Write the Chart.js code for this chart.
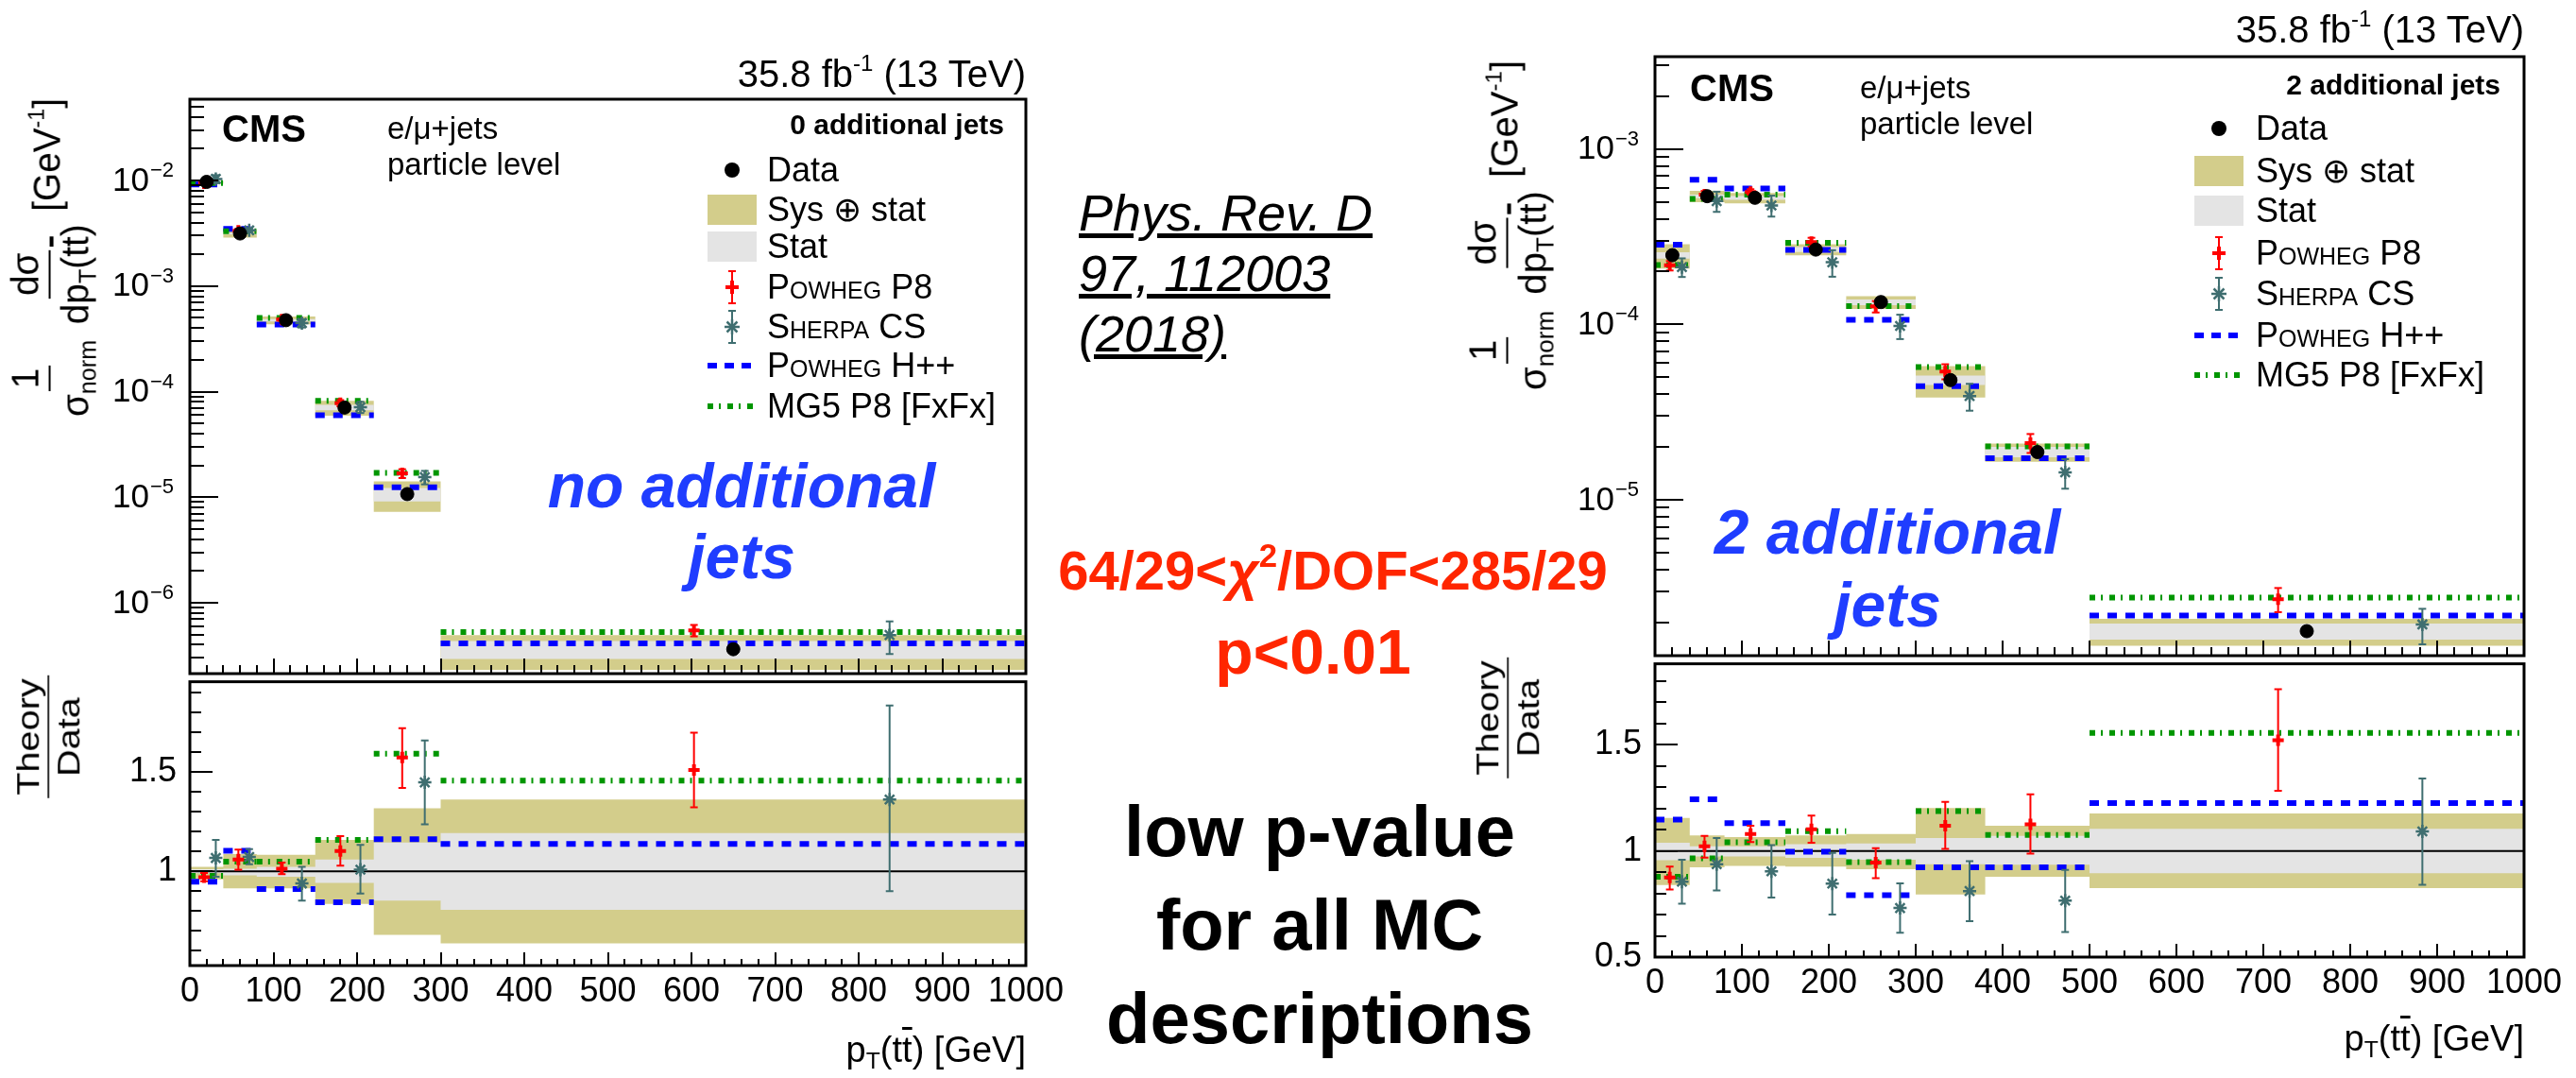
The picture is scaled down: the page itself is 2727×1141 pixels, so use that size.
<!DOCTYPE html>
<html>
<head>
<meta charset="utf-8">
<title>pT(tt) for 0 and 2 additional jets</title>
<script src="https://cdn.jsdelivr.net/npm/chart.js@4.4.1/dist/chart.umd.min.js"></script>
<style>
body { margin: 0; background: #fff; }
#page { position: relative; width: 2727px; height: 1141px; overflow: hidden; background: #fff;
  font-family: "Liberation Sans", Arial, Helvetica, sans-serif; color: #000; }
#page canvas { position: absolute; }
.t { position: absolute; white-space: nowrap; line-height: 1; }
.b { font-weight: bold; }
.sc { font-variant: small-caps; }
.frac { display: inline-flex; flex-direction: column; align-items: center; vertical-align: middle; line-height: 1.25; }
.frac .n { border-bottom: 2px solid #000; padding: 0 3px; }
.frac .d { padding: 0 3px; }
.ov { text-decoration: overline; }
.rot { position: absolute; white-space: nowrap; line-height: 1; transform-origin: 50% 50%; }
sub { font-size: 0.65em; vertical-align: -0.3em; line-height: 0; }
sup { font-size: 0.6em; vertical-align: 0.7em; line-height: 0; }
.lgs { position: absolute; }
</style>
</head>
<body>
<div id="page">
  <canvas id="j0top"></canvas>
  <canvas id="j0rat"></canvas>
  <canvas id="j2top"></canvas>
  <canvas id="j2rat"></canvas>

  <!-- left plot: 0 additional jets -->
  <div class="t" style="right:1641px;top:58px;font-size:40px">35.8 fb<sup>-1</sup> (13 TeV)</div>
  <div class="t b" style="left:235px;top:116px;font-size:40px">CMS</div>
  <div class="t" style="left:410px;top:119px;font-size:33px">e/&mu;+jets</div>
  <div class="t" style="left:410px;top:157px;font-size:33px">particle level</div>
  <div class="t b" style="right:1664px;top:117px;font-size:30px">0 additional jets</div>
  <div class="t b" style="left:785px;top:477px;font-size:66px;line-height:75px;font-style:italic;color:#1f3dff;text-align:center;transform:translateX(-50%)">no additional<br>jets</div>
  <div class="rot" id="yt0" style="font-size:40px"><span class="frac"><span class="n">1</span><span class="d">&sigma;<sub>norm</sub></span></span> <span class="frac"><span class="n">d&sigma;</span><span class="d">dp<sub>T</sub>(t<span class="ov">t</span>)</span></span> [GeV<sup>-1</sup>]</div>
  <div class="rot" id="rt0" style="font-size:40px"><span class="frac"><span class="n">Theory</span><span class="d">Data</span></span></div>
  <div class="t" style="right:1641px;top:1092px;font-size:38px">p<sub>T</sub>(t<span class="ov">t</span>) [GeV]</div>

  <!-- right plot: 2 additional jets -->
  <div class="t" style="right:55px;top:11px;font-size:40px">35.8 fb<sup>-1</sup> (13 TeV)</div>
  <div class="t b" style="left:1789px;top:73px;font-size:40px">CMS</div>
  <div class="t" style="left:1969px;top:76px;font-size:33px">e/&mu;+jets</div>
  <div class="t" style="left:1969px;top:114px;font-size:33px">particle level</div>
  <div class="t b" style="right:80px;top:75px;font-size:30px">2 additional jets</div>
  <div class="t b" style="left:1998px;top:525px;font-size:66px;line-height:77px;font-style:italic;color:#1f3dff;text-align:center;transform:translateX(-50%)">2 additional<br>jets</div>
  <div class="rot" id="yt2" style="font-size:40px"><span class="frac"><span class="n">1</span><span class="d">&sigma;<sub>norm</sub></span></span> <span class="frac"><span class="n">d&sigma;</span><span class="d">dp<sub>T</sub>(t<span class="ov">t</span>)</span></span> [GeV<sup>-1</sup>]</div>
  <div class="rot" id="rt2" style="font-size:40px"><span class="frac"><span class="n">Theory</span><span class="d">Data</span></span></div>
  <div class="t" style="right:55px;top:1080px;font-size:38px">p<sub>T</sub>(t<span class="ov">t</span>) [GeV]</div>

  <!-- middle annotations -->
  <div class="t" style="left:1142px;top:193px;font-size:54px;line-height:64px;font-style:italic;text-decoration:underline">Phys. Rev. D<br>97, 112003<br>(2018)</div>
  <div class="t b" style="left:1411px;top:575px;font-size:58px;color:#ff2600;transform:translateX(-50%)">64/29&lt;<i>&chi;</i><sup>2</sup>/DOF&lt;285/29</div>
  <div class="t b" style="left:1390px;top:657px;font-size:66px;color:#ff2600;transform:translateX(-50%)">p&lt;0.01</div>
  <div class="t b" style="left:1397px;top:830px;font-size:76px;line-height:99px;text-align:center;transform:translateX(-50%)">low p-value<br>for all MC<br>descriptions</div>

  <div id="legends"></div>
</div>

<script>
// ---- values ----
// pT(tt) bin edges [GeV]
const binsJ0 = [0, 40, 80, 150, 220, 300, 1000];
const binsJ2 = [0, 40, 80, 150, 220, 300, 380, 500, 1000];

// data points (upper pad), 1/sigma dsigma/dpT [GeV^-1]
const dataXJ0 = [20, 60, 115, 185, 260, 650];
const dataJ0 = [9.7e-3, 3.15e-3, 4.75e-4, 7.06e-5, 1.07e-5, 3.63e-7];
const dataXJ2 = [20, 60, 115, 185, 260, 340, 440, 750];
const dataJ2 = [2.48e-4, 5.38e-4, 5.27e-4, 2.67e-4, 1.34e-4, 4.81e-5, 1.87e-5, 1.78e-6];

// relative uncertainty bands (as theory/data ratio pad)
const sysLoJ0 = [0.96, 0.914, 0.914, 0.836, 0.68, 0.638];
const sysHiJ0 = [1.023, 1.086, 1.083, 1.158, 1.317, 1.361];
const statLoJ0 = [0.99, 0.98, 0.973, 0.942, 0.853, 0.806];
const statHiJ0 = [1.01, 1.013, 1.023, 1.059, 1.145, 1.192];
const sysLoJ2 = [0.84, 0.923, 0.93, 0.926, 0.914, 0.795, 0.879, 0.825];
const sysHiJ2 = [1.156, 1.073, 1.065, 1.073, 1.08, 1.202, 1.119, 1.177];
const statLoJ2 = [0.956, 0.974, 0.974, 0.967, 0.959, 0.9375, 0.935, 0.895];
const statHiJ2 = [1.039, 1.022, 1.022, 1.032, 1.035, 1.061, 1.071, 1.104];

// theory / data
const p8XJ0 = [17, 58, 110, 180, 254, 603];
const p8J0 = [0.970, 1.059, 1.0125, 1.102, 1.572, 1.509];
const p8LoJ0 = [0.95, 1.008, 0.986, 1.028, 1.419, 1.322];
const p8HiJ0 = [0.992, 1.109, 1.044, 1.177, 1.719, 1.697];
const sherpaXJ0 = [31, 71, 134, 204, 281, 837];
const sherpaJ0 = [1.067, 1.072, 0.939, 1.008, 1.447, 1.361];
const sherpaLoJ0 = [0.973, 1.036, 0.852, 0.888, 1.236, 0.9];
const sherpaHiJ0 = [1.158, 1.111, 1.023, 1.133, 1.658, 1.833];
const hppJ0 = [0.947, 1.103, 0.911, 0.844, 1.161, 1.1375];
const mg5J0 = [0.977, 1.048, 1.048, 1.158, 1.591, 1.456];

const p8XJ2 = [17, 57, 110, 180, 254, 334, 432, 717];
const p8J2 = [0.875, 1.022, 1.08, 1.102, 0.945, 1.119, 1.126, 1.522];
const p8LoJ2 = [0.818, 0.969, 1.042, 1.039, 0.872, 1.01, 0.988, 1.284];
const p8HiJ2 = [0.926, 1.071, 1.119, 1.167, 1.013, 1.231, 1.267, 1.762];
const sherpaXJ2 = [31, 71, 134, 204, 282, 362, 472, 883];
const sherpaJ2 = [0.855, 0.9375, 0.904, 0.846, 0.731, 0.811, 0.766, 1.092];
const sherpaLoJ2 = [0.751, 0.814, 0.781, 0.70, 0.615, 0.669, 0.618, 0.841];
const sherpaHiJ2 = [0.959, 1.061, 1.028, 0.991, 0.847, 0.952, 0.911, 1.341];
const hppJ2 = [1.148, 1.243, 1.131, 0.996, 0.792, 0.923, 0.923, 1.226];
const mg5J2 = [0.878, 0.965, 1.041, 1.093, 0.948, 1.1875, 1.076, 1.556];

// tick labels
const xTickLabels = [0, 100, 200, 300, 400, 500, 600, 700, 800, 900, 1000];
const xMinorStep = 20;
const ratioTickLabels = [0.5, 1, 1.5];
const logDecades = [-7, -6, -5, -4, -3, -2, -1];

// ---- styling ----
const C = { khaki: '#d3cd8b', stat: '#e4e4e4', p8: '#ff0000', sherpa: '#3f6e70', hpp: '#0000ff', mg5: '#009600' };
const FONT = 'Liberation Sans, Arial, sans-serif';
const tickFont = { family: FONT, size: 36 };
const AX_W = 170, PAD_T = 30, PAD_R = 80;

function steps(bins, vals) {
  const out = vals.map((v, i) => ({x: bins[i], y: v}));
  out.push({x: bins[bins.length - 1], y: vals[vals.length - 1]});
  return out;
}
function hsegs(bins, vals) {
  const out = [];
  vals.forEach((v, i) => { out.push({x: bins[i], y: v}, {x: bins[i + 1], y: v}, {x: bins[i + 1], y: null}); });
  return out;
}
function vbars(xs, lo, hi) {
  const out = [];
  xs.forEach((x, i) => { out.push({x: x, y: lo[i]}, {x: x, y: hi[i]}, {x: x, y: null}); });
  return out;
}
function pts(xs, ys) { return xs.map((x, i) => ({x: x, y: ys[i]})); }

function errSet(xs, lo, hi, color, order) {
  return { data: vbars(xs, lo, hi), borderColor: color, borderWidth: 2, pointStyle: 'line',
    pointRadius: c => (c.raw && c.raw.y != null ? 4 : 0), pointBorderColor: color, pointBorderWidth: 2, order: order };
}

function datasets(s, upper) {
  const k = upper ? (r => r.map((v, i) => v * s.data[i])) : (r => r);
  const band = { borderColor: 'rgba(0,0,0,0)', borderWidth: 0, pointRadius: 0, stepped: true };
  const ds = [
    Object.assign({ data: steps(s.bins, k(s.sysHi)), fill: '+1', backgroundColor: C.khaki, order: 30 }, band),
    Object.assign({ data: steps(s.bins, k(s.sysLo)), fill: false, order: 29 }, band),
    Object.assign({ data: steps(s.bins, k(s.statHi)), fill: '+1', backgroundColor: C.stat, order: 28 }, band),
    Object.assign({ data: steps(s.bins, k(s.statLo)), fill: false, order: 27 }, band)
  ];
  if (!upper) ds.push({ data: [{x: 0, y: 1}, {x: 1000, y: 1}], borderColor: '#000', borderWidth: 2, pointRadius: 0, order: 20 });
  ds.push({ data: hsegs(s.bins, k(s.hpp)), borderColor: C.hpp, borderWidth: 6, borderDash: [10, 9], pointRadius: 0, order: 15 });
  ds.push({ data: hsegs(s.bins, k(s.mg5)), borderColor: C.mg5, borderWidth: 6, borderDash: [6, 6, 2, 7], pointRadius: 0, order: 14 });
  ds.push(errSet(s.p8X, k(s.p8Lo), k(s.p8Hi), C.p8, 10));
  ds.push(errSet(s.sherpaX, k(s.sherpaLo), k(s.sherpaHi), C.sherpa, 11));
  ds.push({ data: pts(s.sherpaX, k(s.sherpa)), showLine: false, pointStyle: 'star', pointRadius: 7,
    pointBorderWidth: 2.5, pointBorderColor: C.sherpa, order: 6 });
  ds.push({ data: pts(s.p8X, k(s.p8)), showLine: false, pointStyle: 'cross', pointRadius: 6,
    pointBorderWidth: 4, pointBorderColor: C.p8, order: 5 });
  if (upper) ds.push({ data: pts(s.dataX, s.data), showLine: false, pointStyle: 'circle', pointRadius: 7,
    pointBackgroundColor: '#000', pointBorderColor: '#000', pointBorderWidth: 1, order: 1 });
  return ds;
}

// ROOT-like frame with inward tick marks, and 10^n labels on log axes
const rootFrame = {
  id: 'rootFrame',
  afterDatasetsDraw(chart, args, o) {
    const ctx = chart.ctx, a = chart.chartArea, x = chart.scales.x, y = chart.scales.y;
    ctx.save();
    ctx.strokeStyle = '#000';
    ctx.lineWidth = 2;
    ctx.beginPath();
    x.ticks.forEach(t => {
      const px = Math.round(x.getPixelForValue(t.value));
      const len = t.value % 100 === 0 ? o.xMajor : o.xMinor;
      ctx.moveTo(px, a.bottom); ctx.lineTo(px, a.bottom - len);
    });
    y.ticks.forEach(t => {
      const py = Math.round(y.getPixelForValue(t.value));
      const major = o.log ? t.major : Math.abs(t.value * 2 - Math.round(t.value * 2)) < 1e-6;
      ctx.moveTo(a.left, py); ctx.lineTo(a.left + (major ? o.yMajor : o.yMinor), py);
    });
    ctx.stroke();
    ctx.lineWidth = 3;
    ctx.strokeRect(a.left, a.top, a.right - a.left, a.bottom - a.top);

    if (o.log) {
      ctx.fillStyle = '#000';
      ctx.textBaseline = 'middle';
      ctx.textAlign = 'left';
      y.ticks.filter(t => t.major).forEach(t => {
        const py = y.getPixelForValue(t.value);
        const ex = '\u2212' + String(-Math.round(Math.log10(t.value)));
        ctx.font = '35px ' + FONT;
        const wb = ctx.measureText('10').width;
        ctx.font = '22px ' + FONT;
        const we = ctx.measureText(ex).width;
        const x0 = a.left - 18 - we - wb;
        ctx.font = '35px ' + FONT;
        ctx.fillText('10', x0, py + 1);
        ctx.font = '22px ' + FONT;
        ctx.fillText(ex, x0 + wb + 1, py - 10);
      });
    }
    ctx.restore();
  }
};

function xTicks() {
  const t = [];
  for (let v = 0; v <= 1000; v += xMinorStep) t.push({value: v});
  return t;
}
function logTicks(min, max) {
  const t = [];
  logDecades.forEach(e => {
    for (let m = 1; m <= 9; m++) {
      const v = m * Math.pow(10, e);
      if (v >= min && v <= max) t.push({value: v, major: m === 1});
    }
  });
  return t;
}
function ratioTicks(min, max) {
  const t = [];
  for (let k = 5; k <= 19; k++) { const v = k / 10; if (v >= min - 1e-9 && v <= max + 1e-9) t.push({value: v}); }
  return t;
}

function makePanel(id, g, s, upper) {
  const xH = upper ? 30 : 80;
  const cv = document.getElementById(id);
  cv.width = AX_W + (g.R - g.L) + PAD_R;
  cv.height = PAD_T + (g.B - g.T) + xH;
  cv.style.left = (g.L - AX_W) + 'px';
  cv.style.top = (g.T - PAD_T) + 'px';

  const yScale = upper ? {
    type: 'logarithmic', min: s.yMin, max: s.yMax,
    afterBuildTicks: sc => { sc.ticks = logTicks(s.yMin, s.yMax); },
    ticks: { display: false }
  } : {
    type: 'linear', min: s.rMin, max: s.rMax,
    afterBuildTicks: sc => { sc.ticks = ratioTicks(s.rMin, s.rMax); },
    ticks: { autoSkip: false, padding: 14, color: '#000', font: tickFont,
      callback: v => (ratioTickLabels.includes(v) ? String(v) : '') }
  };
  yScale.grid = { display: false, drawTicks: false };
  yScale.border = { display: false };
  yScale.afterFit = sc => { sc.width = AX_W; };

  new Chart(cv, {
    type: 'line',
    data: { datasets: datasets(s, upper) },
    options: {
      responsive: false, animation: false, events: [],
      layout: { padding: { top: PAD_T, right: PAD_R, left: 0, bottom: 0 } },
      plugins: {
        legend: { display: false }, tooltip: { enabled: false },
        rootFrame: upper ? { log: true, xMajor: 16, xMinor: 9, yMajor: 30, yMinor: 15 }
                         : { log: false, xMajor: 14, xMinor: 7, yMajor: 24, yMinor: 12 }
      },
      scales: {
        x: {
          type: 'linear', min: 0, max: 1000,
          grid: { display: false, drawTicks: false }, border: { display: false },
          afterBuildTicks: sc => { sc.ticks = xTicks(); },
          afterFit: sc => { sc.height = xH; },
          ticks: { display: !upper, autoSkip: false, maxRotation: 0, padding: 6, color: '#000', font: tickFont,
            callback: v => (xTickLabels.includes(v) ? String(v) : '') }
        },
        y: yScale
      }
    },
    plugins: [rootFrame]
  });
}

const J0 = { bins: binsJ0, data: dataJ0, dataX: dataXJ0, sysLo: sysLoJ0, sysHi: sysHiJ0, statLo: statLoJ0, statHi: statHiJ0,
  p8X: p8XJ0, p8: p8J0, p8Lo: p8LoJ0, p8Hi: p8HiJ0, sherpaX: sherpaXJ0, sherpa: sherpaJ0, sherpaLo: sherpaLoJ0, sherpaHi: sherpaHiJ0,
  hpp: hppJ0, mg5: mg5J0, yMin: 2.13e-7, yMax: 0.0589, rMin: 0.526, rMax: 1.953 };
const J2 = { bins: binsJ2, data: dataJ2, dataX: dataXJ2, sysLo: sysLoJ2, sysHi: sysHiJ2, statLo: statLoJ2, statHi: statHiJ2,
  p8X: p8XJ2, p8: p8J2, p8Lo: p8LoJ2, p8Hi: p8HiJ2, sherpaX: sherpaXJ2, sherpa: sherpaJ2, sherpaLo: sherpaLoJ2, sherpaHi: sherpaHiJ2,
  hpp: hppJ2, mg5: mg5J2, yMin: 1.29e-6, yMax: 3.36e-3, rMin: 0.5, rMax: 1.882 };

makePanel('j0top', {L: 201, R: 1086, T: 105, B: 713}, J0, true);
makePanel('j0rat', {L: 201, R: 1086, T: 716, B: 1022}, J0, false);
makePanel('j2top', {L: 1752, R: 2672, T: 60, B: 694}, J2, true);
makePanel('j2rat', {L: 1752, R: 2672, T: 697, B: 1013}, J2, false);

// rotated axis titles: fit into the box they take in the figure
function fitRot(id, cx, cy, len, thick) {
  const el = document.getElementById(id);
  const w = el.offsetWidth, h = el.offsetHeight;
  el.style.left = (cx - w / 2) + 'px';
  el.style.top = (cy - h / 2) + 'px';
  el.style.transform = `rotate(-90deg) scale(${len / w}, ${thick / h})`;
}
fitRot('yt0', 52, 274, 340, 104);
fitRot('rt0', 51, 780, 130, 84);
fitRot('yt2', 1595, 240, 352, 104);
fitRot('rt2', 1596, 760, 128, 84);

// ---- legends ----
function errSym(color, mark) {
  let m;
  if (mark === 'cross') {
    m = `<line x1="30" y1="13" x2="30" y2="27" stroke="${color}" stroke-width="4"/><line x1="23" y1="20" x2="37" y2="20" stroke="${color}" stroke-width="4"/>`;
  } else {
    m = `<g stroke="${color}" stroke-width="2.5"><line x1="30" y1="12" x2="30" y2="28"/><line x1="22" y1="20" x2="38" y2="20"/>` +
        `<line x1="24.5" y1="14.5" x2="35.5" y2="25.5"/><line x1="24.5" y1="25.5" x2="35.5" y2="14.5"/></g>`;
  }
  return `<g stroke="${color}" stroke-width="2"><line x1="30" y1="3" x2="30" y2="37"/><line x1="26" y1="3" x2="34" y2="3"/><line x1="26" y1="37" x2="34" y2="37"/></g>` + m;
}
const legendItems = [
  { label: 'Data', sym: '<circle cx="30" cy="20" r="8" fill="#000"/>' },
  { label: 'Sys &#8853; stat', sym: `<rect x="4" y="4" width="52" height="32" fill="${C.khaki}"/>` },
  { label: 'Stat', sym: `<rect x="4" y="4" width="52" height="32" fill="${C.stat}"/>` },
  { label: '<span class="sc">Powheg</span> P8', sym: errSym(C.p8, 'cross') },
  { label: '<span class="sc">Sherpa</span> CS', sym: errSym(C.sherpa, 'star') },
  { label: '<span class="sc">Powheg</span> H++', sym: `<line x1="4" y1="20" x2="56" y2="20" stroke="${C.hpp}" stroke-width="6" stroke-dasharray="10,8"/>` },
  { label: 'MG5 P8 [FxFx]', sym: `<line x1="4" y1="20" x2="56" y2="20" stroke="${C.mg5}" stroke-width="6" stroke-dasharray="6,6,2,7"/>` }
];
function legend(symX, textX, rows) {
  let html = '';
  legendItems.forEach((it, i) => {
    const yc = rows[i];
    html += `<svg class="lgs" width="60" height="40" style="left:${symX - 30}px;top:${yc - 20}px">${it.sym}</svg>`;
    html += `<div class="t" style="left:${textX}px;top:${yc - 18}px;font-size:36px">${it.label}</div>`;
  });
  return html;
}
document.getElementById('legends').innerHTML =
  legend(775, 812, [180, 222, 261, 304, 346, 387, 430]) +
  legend(2349, 2388, [136, 181, 223, 268, 311, 355, 397]);
</script>
</body>
</html>
